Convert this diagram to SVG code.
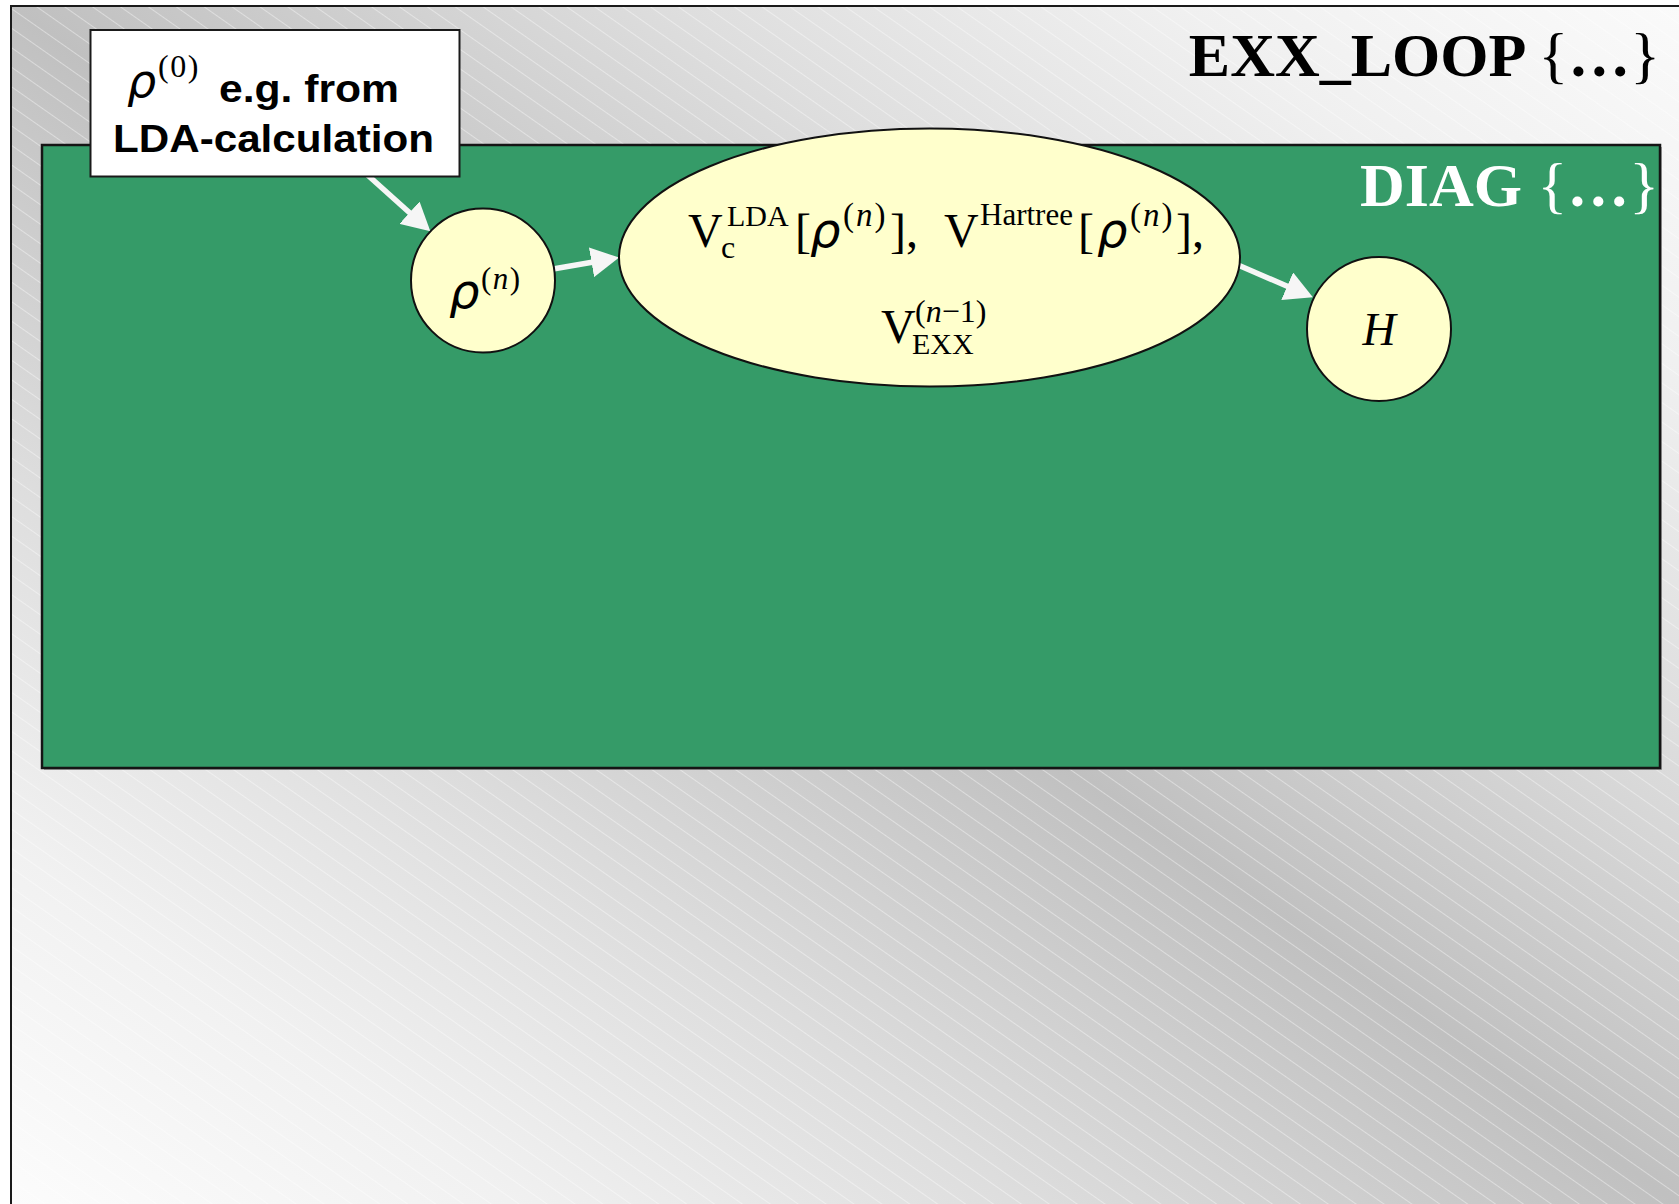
<svg xmlns="http://www.w3.org/2000/svg" width="1679" height="1204" viewBox="0 0 1679 1204">
  <defs>
    <linearGradient id="slideShade" x1="0" y1="1" x2="1" y2="0">
      <stop offset="0" stop-color="#fcfcfc"/>
      <stop offset="0.15" stop-color="#f1f1f1"/>
      <stop offset="0.3" stop-color="#dedede"/>
      <stop offset="0.5" stop-color="#c0c0c0"/>
      <stop offset="0.7" stop-color="#dedede"/>
      <stop offset="0.85" stop-color="#f0f0f0"/>
      <stop offset="1" stop-color="#fafafa"/>
    </linearGradient>
    <pattern id="hatch" patternUnits="userSpaceOnUse" width="40" height="16" patternTransform="rotate(35)">
      <line x1="0" y1="0.5" x2="40" y2="0.5" stroke="#ffffff" stroke-opacity="0.4" stroke-width="1"/>
    </pattern>
    <marker id="head" markerUnits="userSpaceOnUse" viewBox="0 0 28 30" markerWidth="28" markerHeight="30" refX="2" refY="15" orient="auto">
      <path d="M0,0 L28,15 L0,30 Z" fill="#f6f6f6"/>
    </marker>
  </defs>
  <style>
    .serif { font-family: "Liberation Serif", "Times New Roman", serif; }
    .title { font-family: "Liberation Serif", "Times New Roman", serif; font-weight: bold; font-size: 62px; }
    .brace { font-weight: normal; }
    .node { fill: #ffffcc; stroke: #111111; stroke-width: 2; }
    .label { font-family: "Liberation Sans", Arial, sans-serif; font-weight: bold; font-size: 38px; fill: #000000; }
    .rho { font-family: "DejaVu Sans", "Liberation Sans", sans-serif; font-style: oblique; }
    .it { font-style: italic; }
    .edge { fill: none; stroke: #f6f6f6; stroke-width: 5.5; marker-end: url(#head); }
  </style>

  <rect x="0" y="0" width="1679" height="1204" fill="#ffffff"/>

  <!-- outer loop: shaded slide area with title -->
  <g id="exx-loop">
    <rect x="11" y="6" width="1668" height="1198" fill="url(#slideShade)"/>
    <rect x="11" y="6" width="1668" height="1198" fill="url(#hatch)"/>
    <path d="M11,1210 V6 H1685" fill="none" stroke="#1a1a1a" stroke-width="2"/>
    <text class="title" x="1660" y="76" text-anchor="end" fill="#000000">EXX_LOOP <tspan class="brace">{</tspan>…<tspan class="brace">}</tspan></text>
  </g>

  <!-- inner diagonalisation block -->
  <g id="diag">
    <rect x="44" y="147" width="1618" height="623" fill="#7a7a7a" opacity="0.6"/>
    <rect x="42" y="145" width="1618" height="623" fill="#359b68" stroke="#151515" stroke-width="2.5"/>
    <text class="title" x="1659" y="206" text-anchor="end" fill="#ffffff">DIAG <tspan class="brace">{</tspan>…<tspan class="brace">}</tspan></text>
  </g>

  <!-- arrows between the steps -->
  <g id="connectors">
    <line class="edge" x1="362" y1="170" x2="411" y2="214"/>
    <line class="edge" x1="553" y1="269" x2="593.5" y2="262"/>
    <line class="edge" x1="1238" y1="265" x2="1289" y2="287"/>
  </g>

  <!-- starting density -->
  <g id="node-start">
    <rect x="90.5" y="30" width="369" height="146.5" fill="#ffffff" stroke="#1a1a1a" stroke-width="2"/>
    <text class="rho" x="127" y="97" font-size="46">ρ</text>
    <text class="serif" x="158" y="77" font-size="32" letter-spacing="1.5">(0)</text>
    <text class="label" x="219" y="101.5" textLength="180" lengthAdjust="spacingAndGlyphs">e.g. from</text>
    <text class="label" x="113" y="151.5" textLength="321" lengthAdjust="spacingAndGlyphs">LDA-calculation</text>
  </g>

  <!-- current density -->
  <g id="node-rho">
    <circle class="node" cx="483" cy="280.5" r="72"/>
    <text class="rho" x="449" y="308" font-size="48">ρ</text>
    <text class="serif" x="481" y="289" font-size="31" letter-spacing="1.5">(<tspan class="it">n</tspan>)</text>
  </g>

  <!-- potentials -->
  <g id="node-potentials">
    <ellipse class="node" cx="929.5" cy="257.5" rx="310.5" ry="129"/>
    <g class="serif" fill="#000000">
      <text x="688" y="247" font-size="48">V</text>
      <text x="721" y="258" font-size="32">c</text>
      <text x="727" y="226" font-size="30">LDA</text>
      <text x="795" y="247" font-size="48">[</text>
      <text class="rho" x="810" y="247" font-size="48">ρ</text>
      <text x="843" y="226" font-size="33" letter-spacing="2">(<tspan class="it">n</tspan>)</text>
      <text x="890" y="247" font-size="48">],</text>
      <text x="944" y="247" font-size="48">V</text>
      <text x="980" y="225" font-size="31">Hartree</text>
      <text x="1078" y="247" font-size="48">[</text>
      <text class="rho" x="1097" y="247" font-size="48">ρ</text>
      <text x="1130" y="226" font-size="33" letter-spacing="2">(<tspan class="it">n</tspan>)</text>
      <text x="1176" y="247" font-size="48">],</text>
      <text x="881" y="343" font-size="48">V</text>
      <text x="915" y="322" font-size="32">(<tspan class="it">n</tspan>−1)</text>
      <text x="912" y="354" font-size="30">EXX</text>
    </g>
  </g>

  <!-- Hamiltonian -->
  <g id="node-h">
    <circle class="node" cx="1379" cy="329" r="72"/>
    <text class="serif it" x="1379" y="345" font-size="46" text-anchor="middle">H</text>
  </g>
</svg>
